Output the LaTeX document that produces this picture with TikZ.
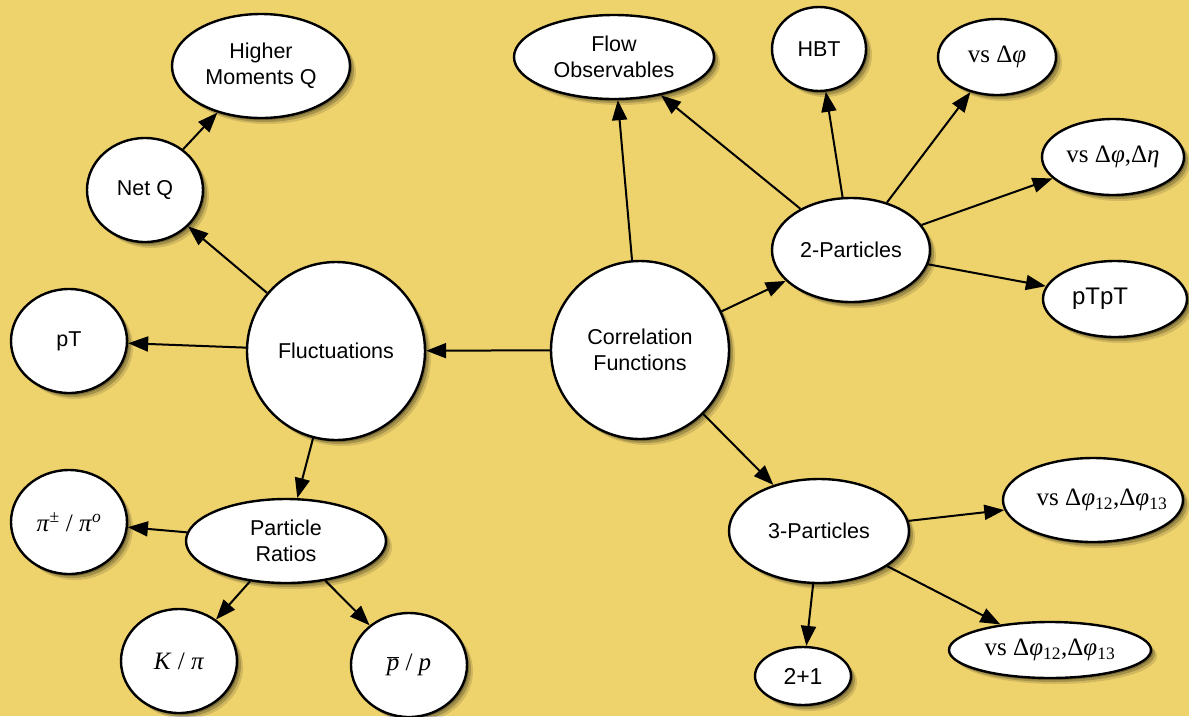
\documentclass[tikz,border=0pt]{standalone}
\usepackage{fontspec}
\setsansfont{Liberation Sans}
\newfontfamily\tms{Liberation Serif}
\usetikzlibrary{shapes.geometric,arrows.meta,shadows}
\definecolor{bg}{RGB}{238,210,108}
\tikzset{
  bub/.style={ellipse, draw=black, line width=2.4pt, fill=white, inner sep=0pt,
    align=center, text=black, font=\sffamily\fontsize{21.5}{26}\selectfont,
    general shadow={shadow xshift=2pt, shadow yshift=-2pt, fill=black, opacity=0.25},
    general shadow={shadow xshift=4pt, shadow yshift=-4pt, fill=black, opacity=0.2},
    general shadow={shadow xshift=6pt, shadow yshift=-6pt, fill=black, opacity=0.12}},
  mth/.style={font=\tms\fontsize{25}{30}\selectfont},
  conn/.style={-{Triangle[length=20pt,width=15pt]}, line width=2pt, draw=black},
  sz/.style 2 args={minimum width=#1pt, minimum height=#2pt}
}
\begin{document}
\begin{tikzpicture}[x=1pt,y=-1pt]
\useasboundingbox (0,0) rectangle (1189,716);
\fill[bg] (0,0) rectangle (1189,716);

% left branch
\node[bub, sz={178}{104}] (hm) at (261,66) {Higher\\Moments Q};
\node[bub, sz={116}{104}] (netq) at (145,190) {Net Q};
\node[bub, sz={178}{178}] (fl) at (336,351) {Fluctuations};
\node[bub, sz={116}{104}] (pt) at (69,341) {pT};
\node[bub, sz={200}{84}] (pr) at (286,541) {Particle\\Ratios};
\node[bub, mth, sz={116}{104}] (pipi) at (69,522) {\textit{π}\textsuperscript{±} / \textit{π}\textsuperscript{\textit{o}}};
\node[bub, mth, sz={116}{104}] (kpi) at (179,661) {\textit{K} / \textit{π}};
\node[bub, mth, sz={116}{104}] (pbp) at (409,665) {$\overline{\mbox{\itshape p}}$ / \textit{p}};

% centre and right branch
\node[bub, sz={178}{178}] (cf) at (640,350) {Correlation\\Functions};
\node[bub, sz={200}{84}] (flow) at (614,57) {Flow\\Observables};
\node[bub, sz={94}{84}] (hbt) at (819,49) {HBT};
\node[bub, mth, sz={118}{76}] (vphi) at (997,57) {vs Δ\textit{φ}};
\node[bub, mth, sz={142}{76}] (vphieta) at (1113,157) {vs Δ\textit{φ},Δ\textit{η}};
\node[bub, sz={158}{104}] (tp) at (851,250) {2-Particles};
\node[bub, sz={144}{76}, font=\sffamily\fontsize{24}{28}\selectfont] (ptpt) at (1115,299) {pTpT\hspace*{30pt}};
\node[bub, sz={180}{104}] (thp) at (819,531) {3-Particles};
\node[bub, mth, sz={180}{84}, inner xsep=-14pt] (v3a) at (1093,500) {\hspace*{18pt}vs Δ\textit{φ}\textsubscript{12},Δ\textit{φ}\textsubscript{13}};
\node[bub, mth, sz={202}{56}] (v3b) at (1050,650) {vs Δ\textit{φ}\textsubscript{12},Δ\textit{φ}\textsubscript{13}};
\node[bub, sz={96}{58}, font=\sffamily\fontsize{23}{27}\selectfont] (two1) at (803,676) {2+1};

% connectors
\draw[conn] (cf) -- (fl);
\draw[conn] (cf) -- (flow);
\draw[conn] (cf) -- (tp);
\draw[conn] (cf) -- (thp);
\draw[conn] (fl) -- (netq);
\draw[conn] (netq) -- (hm);
\draw[conn] (fl) -- (pt);
\draw[conn] (fl) -- (pr);
\draw[conn] (pr) -- (pipi);
\draw[conn] (pr) -- (kpi);
\draw[conn] (pr) -- (pbp);
\draw[conn] (tp) -- (flow);
\draw[conn] (tp) -- (hbt);
\draw[conn] (tp) -- (vphi);
\draw[conn] (tp) -- (vphieta);
\draw[conn] (tp) -- (ptpt);
\draw[conn] (thp) -- (v3a);
\draw[conn] (thp) -- (v3b);
\draw[conn] (thp) -- (two1);
\end{tikzpicture}
\end{document}
